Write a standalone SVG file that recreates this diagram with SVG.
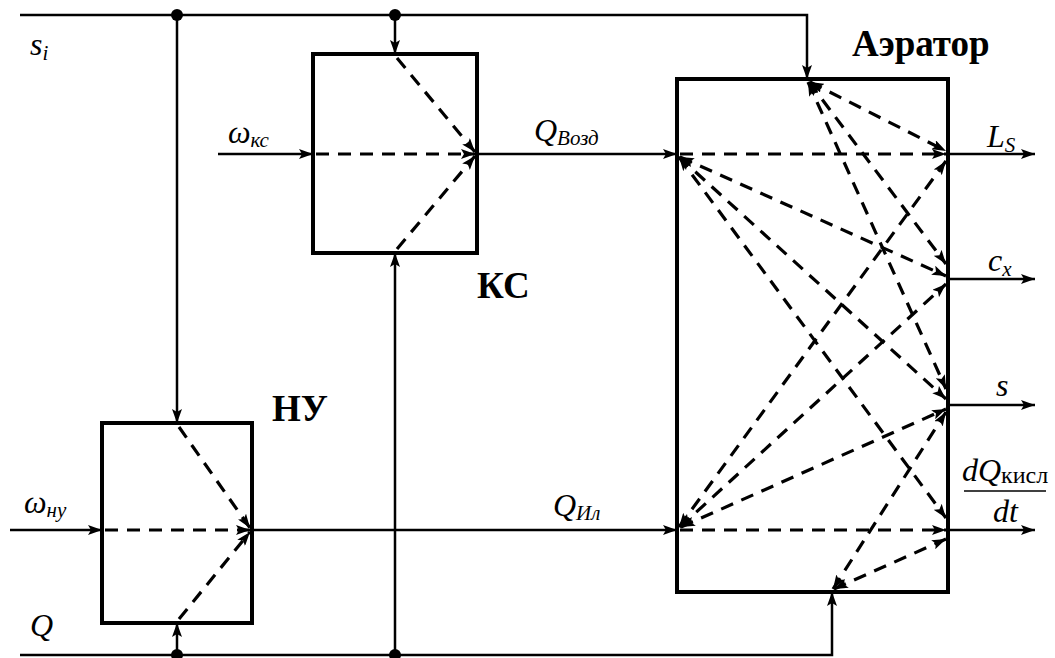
<svg xmlns="http://www.w3.org/2000/svg" width="1055" height="658" viewBox="0 0 1055 658">
<defs>
<marker id="ah" viewBox="0 0 14 10" refX="14" refY="5" markerWidth="14" markerHeight="10" markerUnits="userSpaceOnUse" orient="auto-start-reverse">
<path d="M0,0 L14,5 L0,10 L3,5 Z" fill="#000"/>
</marker>
<marker id="ahd" viewBox="0 0 14 10" refX="14" refY="5" markerWidth="14" markerHeight="10" markerUnits="userSpaceOnUse" orient="auto-start-reverse">
<path d="M0,0 L14,5 L0,10 L3,5 Z" fill="#000"/>
</marker>
<style>
.box{fill:#fff;stroke:#000;stroke-width:4;stroke-linejoin:miter}
.ar{fill:none;stroke:#000;stroke-width:2.5;marker-end:url(#ah)}
.ds{fill:none;stroke:#000;stroke-width:3.2;stroke-dasharray:13 9;marker-end:url(#ahd)}
.dd{fill:none;stroke:#000;stroke-width:3.2;stroke-dasharray:13 9;marker-end:url(#ahd);marker-start:url(#ahd)}
.it{font-family:"Liberation Serif","DejaVu Serif","Times New Roman",serif;font-style:italic;font-size:32px;fill:#000}
.sb{font-style:italic;font-size:21px}
.rm{font-style:normal;font-size:24px}
.bd{font-family:"Liberation Serif","DejaVu Serif","Times New Roman",serif;font-weight:bold;font-size:37px;fill:#000}
</style>
</defs>

<g id="nu">
<rect class="box" x="102" y="423" width="150" height="200"/>
<text class="bd" x="272" y="421">НУ</text>
</g>
<g id="ks">
<rect class="box" x="313" y="54" width="164" height="199"/>
<text class="bd" x="477" y="298">КС</text>
</g>
<g id="aerator">
<rect class="box" x="677" y="79" width="271" height="513"/>
<text class="bd" x="852" y="56">Аэратор</text>
</g>

<g id="connectors">
<polyline class="ar" points="20,15 807,15 807,79"/>
<line class="ar" x1="177" y1="15" x2="177" y2="423"/>
<line class="ar" x1="395" y1="15" x2="395" y2="54"/>
<polyline class="ar" points="20,655 832,655 832,592"/>
<line class="ar" x1="177" y1="655" x2="177" y2="623"/>
<line class="ar" x1="395" y1="655" x2="395" y2="253"/>
<circle cx="177" cy="15" r="6"/>
<circle cx="395" cy="15" r="6"/>
<circle cx="177" cy="655" r="6"/>
<circle cx="395" cy="655" r="6"/>
<line class="ar" x1="218" y1="154" x2="313" y2="154"/>
<line class="ar" x1="10" y1="530" x2="102" y2="530"/>
<line class="ar" x1="477" y1="154" x2="677" y2="154"/>
<line class="ar" x1="252" y1="530" x2="677" y2="530"/>
<line class="ar" x1="948" y1="154" x2="1035" y2="154"/>
<line class="ar" x1="948" y1="279" x2="1035" y2="279"/>
<line class="ar" x1="948" y1="405" x2="1035" y2="405"/>
<line class="ar" x1="948" y1="530" x2="1035" y2="530"/>
<line class="ds" x1="397" y1="58" x2="475" y2="152"/>
<line class="ds" x1="316" y1="154" x2="475" y2="154"/>
<line class="ds" x1="397" y1="249" x2="475" y2="156"/>
<line class="ds" x1="179" y1="427" x2="250" y2="528"/>
<line class="ds" x1="105" y1="530" x2="250" y2="530"/>
<line class="ds" x1="179" y1="619" x2="250" y2="532"/>
<line class="ds" x1="680" y1="154" x2="946" y2="154"/>
<line class="ds" x1="680" y1="530" x2="946" y2="530"/>
<line class="dd" x1="810" y1="82" x2="946" y2="151"/>
<line class="dd" x1="809" y1="82" x2="946" y2="264"/>
<line class="dd" x1="808" y1="82" x2="946" y2="389"/>
<line class="dd" x1="680" y1="157" x2="946" y2="276"/>
<line class="dd" x1="679" y1="157" x2="946" y2="399"/>
<line class="dd" x1="679" y1="157" x2="946" y2="518"/>
<line class="dd" x1="679" y1="527" x2="946" y2="161"/>
<line class="dd" x1="680" y1="527" x2="946" y2="284"/>
<line class="dd" x1="681" y1="527" x2="946" y2="409"/>
<line class="dd" x1="833" y1="589" x2="946" y2="412"/>
<line class="dd" x1="834" y1="589" x2="946" y2="539"/>
</g>

<g id="labels">
<text class="it" x="30" y="55">s<tspan class="sb" dy="5">i</tspan></text>
<text class="it" x="228" y="143">ω<tspan class="sb" dy="4">кс</tspan></text>
<text class="it" x="534" y="141">Q<tspan class="sb" dy="4">Возд</tspan></text>
<text class="it" x="24" y="513">ω<tspan class="sb" dy="4">ну</tspan></text>
<text class="it" x="553" y="516">Q<tspan class="sb" dy="4">Ил</tspan></text>
<text class="it" x="30" y="636">Q</text>
<text class="it" x="987" y="147">L<tspan class="sb" dy="5">S</tspan></text>
<text class="it" x="988" y="271">c<tspan class="sb" dy="5">x</tspan></text>
<text class="it" x="996" y="396">s</text>
<text class="it" x="962" y="481">dQ<tspan class="rm" dy="2">кисл</tspan></text>
<line x1="964" y1="491" x2="1046" y2="491" stroke="#000" stroke-width="1.5"/>
<text class="it" x="993" y="522">dt</text>
</g>
</svg>
